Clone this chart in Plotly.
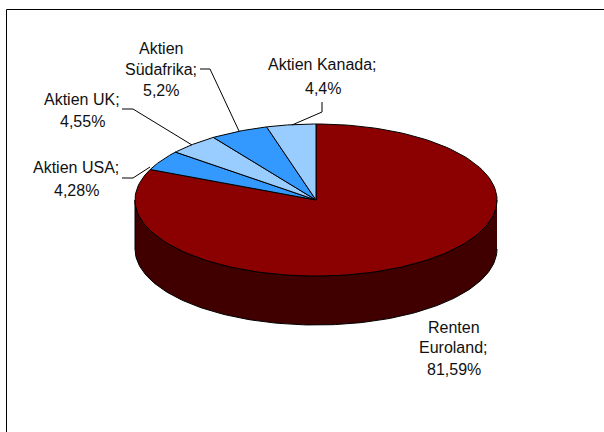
import numpy as np
import plotly.graph_objects as go

names = ["Renten Euroland", "Aktien USA", "Aktien UK", "Aktien Südafrika", "Aktien Kanada"]
values = [81.59, 4.28, 4.55, 5.2, 4.4]
colors = ["#8B0000", "#3399FF", "#99CCFF", "#3399FF", "#99CCFF"]
side_color = "#400000"

label_lines = [
    ["Renten", "Euroland;", "81,59%"],
    ["Aktien USA;", "4,28%"],
    ["Aktien UK;", "4,55%"],
    ["Aktien", "Südafrika;", "5,2%"],
    ["Aktien Kanada;", "4,4%"],
]
label_x = [453.5, 76, 82, 160.5, 322.5]
label_y = [[327, 347, 369], [167, 190], [99, 121], [48, 69, 90], [64, 88]]
leaders = [
    None,
    ([122, 133, 150], [178, 178, 167]),
    ([122, 133, 192], [109, 109, 145]),
    ([200, 210, 239], [69, 69, 131]),
    ([322, 322, 292], [102, 112, 125]),
]

CX, CY, RX, RY, DEPTH = 316, 200, 181, 76, 49
W, H = 604, 432
FONT = "Liberation Sans, Arial, sans-serif"


def ellipse(a0, a1, n=160):
    t = np.radians(np.linspace(a0, a1, n))
    return CX + RX * np.sin(t), CY - RY * np.cos(t)


fig = go.Figure()

# pie side (front half of the rim)
tx, ty = ellipse(90, 270)
fig.add_trace(go.Scatter(
    x=np.r_[tx, tx[::-1]], y=np.r_[ty, ty[::-1] + DEPTH],
    mode="lines", fill="toself", fillcolor=side_color,
    line=dict(color="#000000", width=1), hoverinfo="skip", showlegend=False))

# top face wedges, clockwise from 12 o'clock
edges = np.r_[0, np.cumsum(values)] / np.sum(values) * 360
for i, name in enumerate(names):
    ex, ey = ellipse(edges[i], edges[i + 1])
    fig.add_trace(go.Scatter(
        x=np.r_[CX, ex, CX], y=np.r_[CY, ey, CY], name=name,
        mode="lines", fill="toself", fillcolor=colors[i],
        line=dict(color="#000000", width=1), hoverinfo="skip", showlegend=False))

# leader lines
for leader in leaders:
    if leader:
        fig.add_trace(go.Scatter(
            x=leader[0], y=leader[1], mode="lines",
            line=dict(color="#000000", width=1), hoverinfo="skip", showlegend=False))

# labels
annotations = []
for lines, x, ys in zip(label_lines, label_x, label_y):
    for line, y in zip(lines, ys):
        annotations.append(dict(
            x=x, y=y, xref="x", yref="y", text=line, showarrow=False,
            xanchor="center", yanchor="middle",
            font=dict(family=FONT, size=16, color="#111111")))

# chart-area frame (top and left edges show in the crop)
frame = [
    dict(type="line", xref="x", yref="y", x0=6.5, x1=W, y0=9.5, y1=9.5,
         line=dict(color="#000000", width=1)),
    dict(type="line", xref="x", yref="y", x0=6.5, x1=6.5, y0=9.5, y1=H,
         line=dict(color="#000000", width=1)),
]

fig.update_layout(
    width=W, height=H, margin=dict(l=0, r=0, t=0, b=0),
    paper_bgcolor="#FFFFFF", plot_bgcolor="#FFFFFF",
    xaxis=dict(range=[0, W], visible=False, fixedrange=True),
    yaxis=dict(range=[H, 0], visible=False, fixedrange=True),
    annotations=annotations, shapes=frame, showlegend=False)

fig.write_html("out.html", config={"displayModeBar": False},
               post_script="document.body.style.margin='0';document.body.style.overflow='hidden';")
